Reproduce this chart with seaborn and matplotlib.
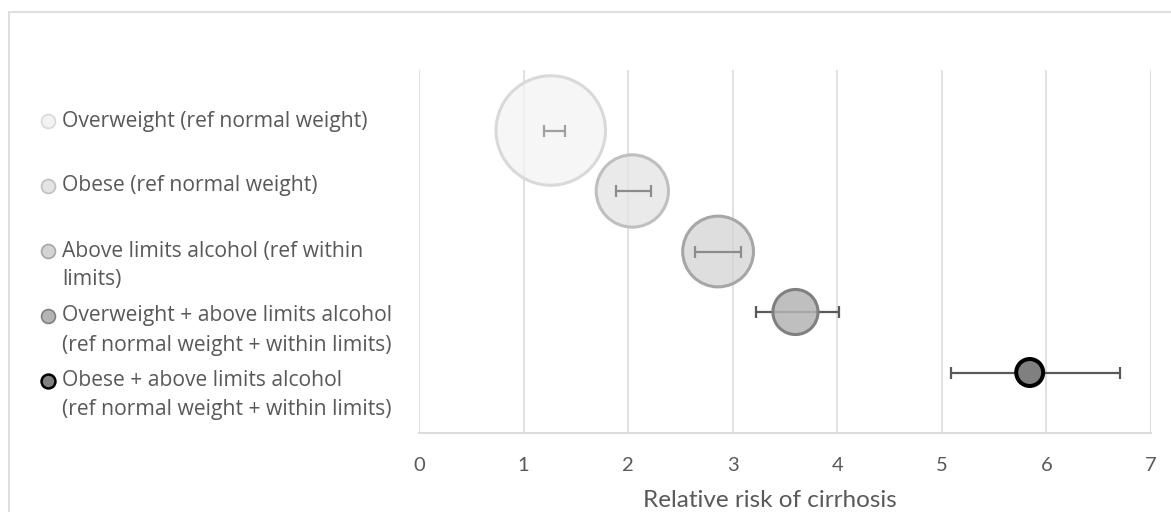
import matplotlib
matplotlib.use("Agg")
import matplotlib.pyplot as plt
import numpy as np
import pandas as pd
import seaborn as sns

# ---- data -------------------------------------------------------------
categories = [
    "Overweight (ref normal weight)",
    "Obese (ref normal weight)",
    "Above limits alcohol (ref within\nlimits)",
    "Overweight + above limits alcohol\n(ref normal weight + within limits)",
    "Obese + above limits alcohol\n(ref normal weight + within limits)",
]
relative_risk = [1.26, 2.04, 2.86, 3.60, 5.84]
ci_lower = [1.20, 1.88, 2.64, 3.22, 5.09]
ci_upper = [1.40, 2.22, 3.08, 4.02, 6.70]
bubble_size = [16.5, 7.2, 6.9, 2.8, 1.0]
x_ticks = [0, 1, 2, 3, 4, 5, 6, 7]
x_label = "Relative risk of cirrhosis"

# ---- styling ----------------------------------------------------------
face_colors = ["#f3f3f3", "#e4e4e4", "#d3d3d3", "#b4b4b4", "#808080"]
face_alpha = [0.75, 0.75, 0.75, 0.85, 1.0]
edge_colors = ["#d9d9d9", "#bfbfbf", "#a6a6a6", "#808080", "#000000"]
edge_widths = [2.2, 2.2, 2.2, 2.2, 2.9]
err_colors = ["#a0a0a0", "#8c8c8c", "#8c8c8c", "#595959", "#595959"]
err_on_top = [True, True, True, False, False]
text_color = "#595959"
grid_color = "#d9d9d9"

W, H, DPI = 1171, 512, 100
sns.set_theme(style="white")
plt.rcParams["font.family"] = ["Lato", "DejaVu Sans"]

n = len(categories)
df = pd.DataFrame({
    "category": categories,
    "rr": relative_risk,
    "lo": ci_lower,
    "hi": ci_upper,
    "size": bubble_size,
    "row": np.arange(n, 0, -1),
})

fig = plt.figure(figsize=(W / DPI, H / DPI), dpi=DPI)
ax = fig.add_axes([419 / W, 1 - 433 / H, (1151 - 419) / W, (433 - 70) / H])

# bubbles: area proportional to bubble_size (19.4 pt diameter for size 1)
unit_area = 19.4 ** 2
sns.scatterplot(
    data=df, x="rr", y="row", hue="category",
    palette=dict(zip(categories, face_colors)),
    size="size",
    sizes=(unit_area * min(bubble_size), unit_area * max(bubble_size)),
    legend=False, ax=ax, zorder=3,
)
coll = ax.collections[-1]
rgba = [matplotlib.colors.to_rgba(c, a) for c, a in zip(face_colors, face_alpha)]
coll.set_facecolors(rgba)
coll.set_edgecolors(edge_colors)
coll.set_linewidths(edge_widths)

# confidence intervals
for i, r in df.iterrows():
    ax.errorbar(
        r["rr"], r["row"],
        xerr=[[r["rr"] - r["lo"]], [r["hi"] - r["rr"]]],
        fmt="none", ecolor=err_colors[i], elinewidth=1.6,
        capsize=4.3, capthick=1.6,
        zorder=4 if err_on_top[i] else 2,
    )

ax.set_xlim(x_ticks[0], x_ticks[-1])
ax.set_ylim(0, n + 1)
ax.set_xticks(x_ticks)
ax.set_xticklabels([str(t) for t in x_ticks])
ax.set_yticks([])
ax.grid(axis="x", color=grid_color, linewidth=1.1, zorder=0)
ax.set_axisbelow(True)
for side in ["left", "right", "top"]:
    ax.spines[side].set_visible(False)
ax.spines["bottom"].set_color(grid_color)
ax.spines["bottom"].set_linewidth(1.3)
ax.tick_params(axis="x", length=0, pad=17.5, labelsize=14.5, labelcolor=text_color)
ax.set_xlabel(x_label, fontsize=17.5, color=text_color)
ax.xaxis.label.set_va("center")
ax.xaxis.set_label_coords(0.48, -0.185)
ax.set_ylabel("")

# legend panel drawn in pixel coordinates
lax = fig.add_axes([0, 0, 1, 1], zorder=-1)
lax.set_xlim(0, W)
lax.set_ylim(H, 0)
lax.axis("off")
lax.plot([9, 9], [12, H + 5], color=grid_color, lw=1.2)
lax.plot([9, W + 5], [12, 12], color=grid_color, lw=1.2)

for i, label in enumerate(categories):
    y0 = 121 + 65 * i
    lax.scatter([48], [y0], s=100, color=face_colors[i],
                edgecolors=edge_colors[i] if i < 4 else "#000000",
                linewidths=1.2 if i < 4 else 1.8)
    for j, line in enumerate(label.split("\n")):
        lax.text(62, y0 + 29 * j, line, fontsize=15.2, color=text_color,
                 va="center", ha="left", family=["Open Sans", "DejaVu Sans"])

fig.savefig("out.png", dpi=DPI)
